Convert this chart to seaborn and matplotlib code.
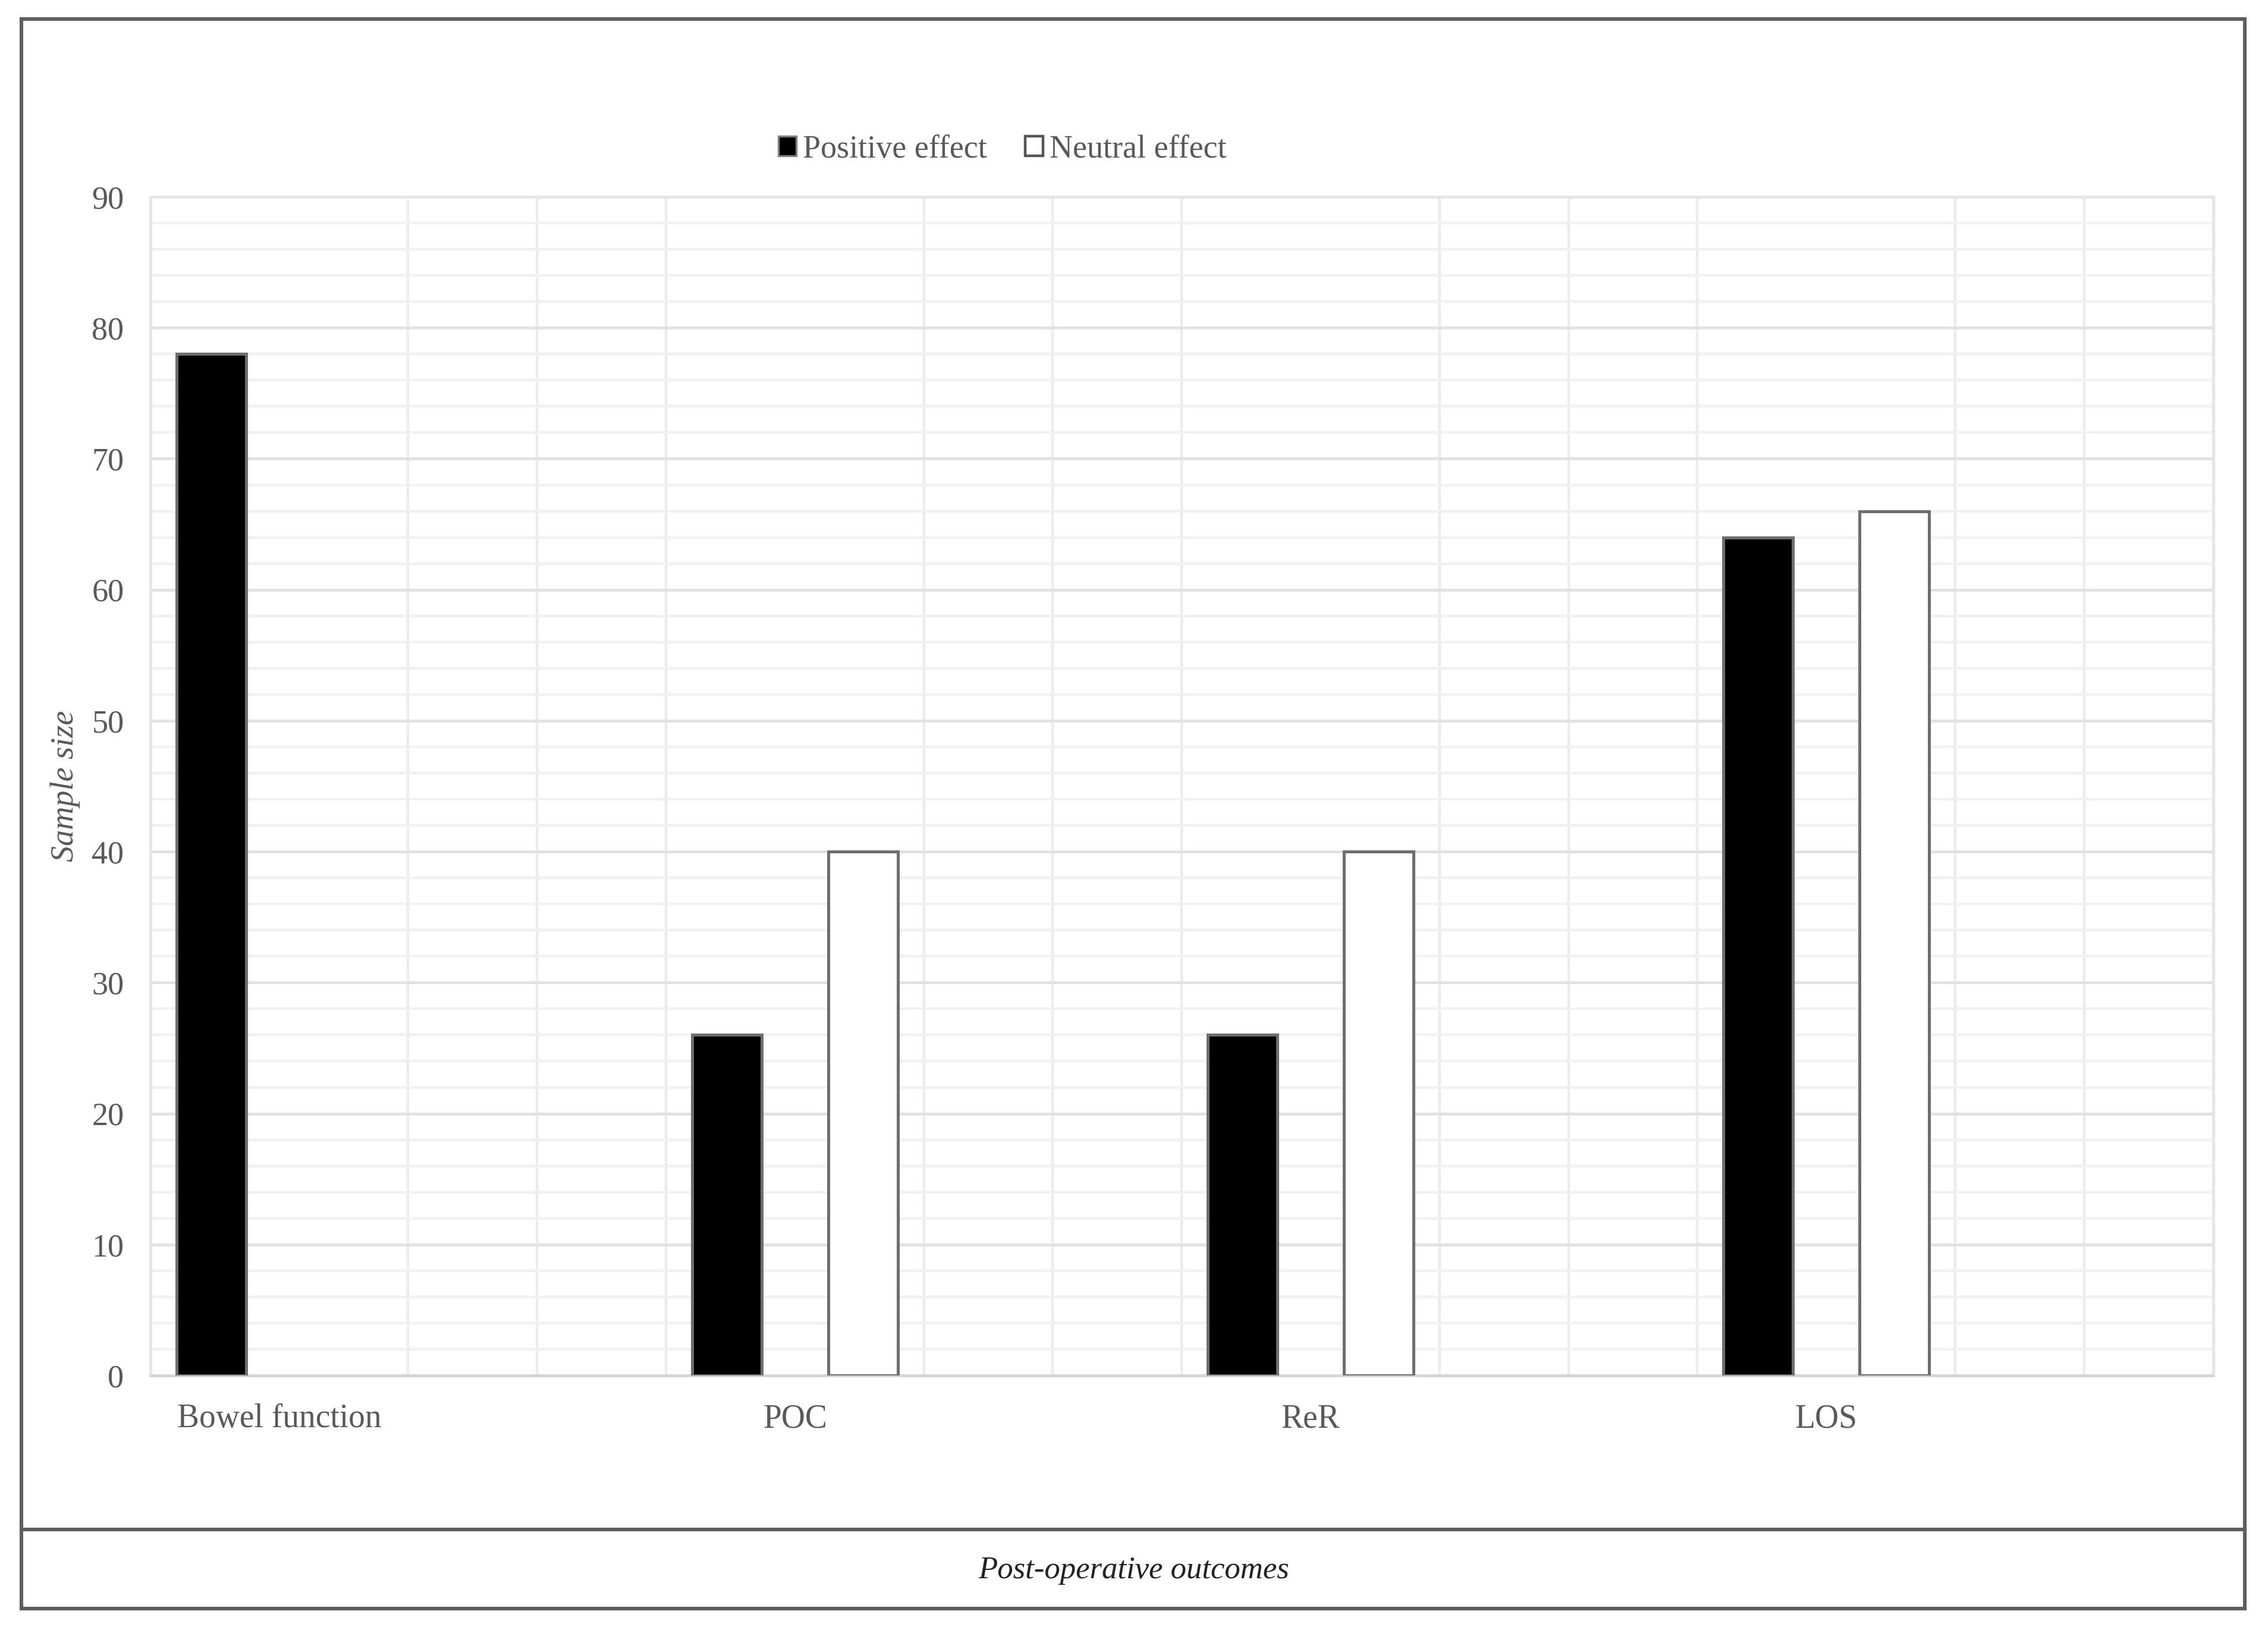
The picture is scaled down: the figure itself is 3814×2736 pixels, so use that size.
import matplotlib
matplotlib.use("Agg")

import matplotlib.pyplot as plt
import seaborn as sns
import numpy as np
import pandas as pd
from matplotlib.patches import Patch, Rectangle
from matplotlib.lines import Line2D
from matplotlib.ticker import MultipleLocator

# --- data ---
outcomes = ["Bowel function", "POC", "ReR", "LOS"]
positive_effect = [78, 26, 26, 64]
neutral_effect = [np.nan, 40, 40, 66]   # no neutral bar for bowel function
effect_labels = ["Positive effect", "Neutral effect"]
y_ticks = [0, 10, 20, 30, 40, 50, 60, 70, 80, 90]

df = pd.DataFrame({
    "outcome": outcomes * 2,
    "effect": [effect_labels[0]] * len(outcomes) + [effect_labels[1]] * len(outcomes),
    "sample_size": positive_effect + neutral_effect,
})

sns.set_theme(style="white")
plt.rcParams["font.family"] = ["Liberation Serif", "DejaVu Serif"]

GREY_TXT = "#595959"
fig = plt.figure(figsize=(19.07, 13.68), dpi=200)
ax = fig.add_axes([0.0663, 0.1546, 0.9095, 0.7244])

sns.barplot(
    data=df,
    x="outcome",
    y="sample_size",
    hue="effect",
    hue_order=effect_labels,
    order=outcomes,
    palette={effect_labels[0]: "black", effect_labels[1]: "white"},
    width=0.528,
    gap=0.49,
    edgecolor="#6e6e6e",
    linewidth=1.8,
    legend=False,
    ax=ax,
    zorder=3,
)

ax.set_xlim(-0.25, 3.75)
ax.set_ylim(0, 90)
ax.set_yticks(y_ticks)
ax.yaxis.set_minor_locator(MultipleLocator(2))
ax.xaxis.set_minor_locator(MultipleLocator(0.25))

ax.grid(which="major", axis="y", color="#e2e2e2", linewidth=1.8, zorder=0)
ax.grid(which="minor", axis="y", color="#f1f1f1", linewidth=1.6, zorder=0)
ax.grid(which="minor", axis="x", color="#ececec", linewidth=1.6, zorder=0)
ax.grid(which="major", axis="x", visible=False)
ax.set_axisbelow(True)

for name, sp in ax.spines.items():
    sp.set_visible(True)
    sp.set_color("#e6e6e6")
    sp.set_linewidth(1.8)
ax.spines["bottom"].set_color("#d6d6d6")

ax.tick_params(axis="both", which="both", length=0)
ax.tick_params(axis="y", pad=16, labelsize=19.5, labelcolor=GREY_TXT)
ax.tick_params(axis="x", pad=17, labelsize=20, labelcolor=GREY_TXT)

ax.set_xlabel("")
ax.set_ylabel("Sample size", fontsize=19.5, style="italic", color=GREY_TXT)
ax.yaxis.set_label_coords(-0.034, 0.5)

handles = [
    Patch(facecolor="black", edgecolor="#7f7f7f", linewidth=1.2, label=effect_labels[0]),
    Patch(facecolor="white", edgecolor="#555555", linewidth=1.6, label=effect_labels[1]),
]
leg = fig.legend(
    handles=handles,
    loc="center",
    bbox_to_anchor=(0.442, 0.908),
    ncol=2,
    frameon=False,
    fontsize=19.5,
    handlelength=0.55,
    handleheight=0.55,
    handletextpad=0.2,
    columnspacing=1.2,
)
for t in leg.get_texts():
    t.set_color(GREY_TXT)

# outer frame with the caption row underneath
frame_l, frame_r, frame_b, frame_t, sep = 0.0094, 0.9898, 0.0113, 0.9883, 0.0600
fig.add_artist(Rectangle((frame_l, frame_b), frame_r - frame_l, frame_t - frame_b,
                         transform=fig.transFigure, fill=False,
                         edgecolor="#5e5e5e", linewidth=2.2))
fig.add_artist(Line2D([frame_l, frame_r], [sep, sep], transform=fig.transFigure,
                      color="#5e5e5e", linewidth=2.2))
fig.text(0.5, (frame_b + sep) / 2 - 0.001, "Post-operative outcomes", ha="center", va="center",
         fontsize=19, style="italic", color="#222222")

fig.savefig("out.png", dpi=200)
